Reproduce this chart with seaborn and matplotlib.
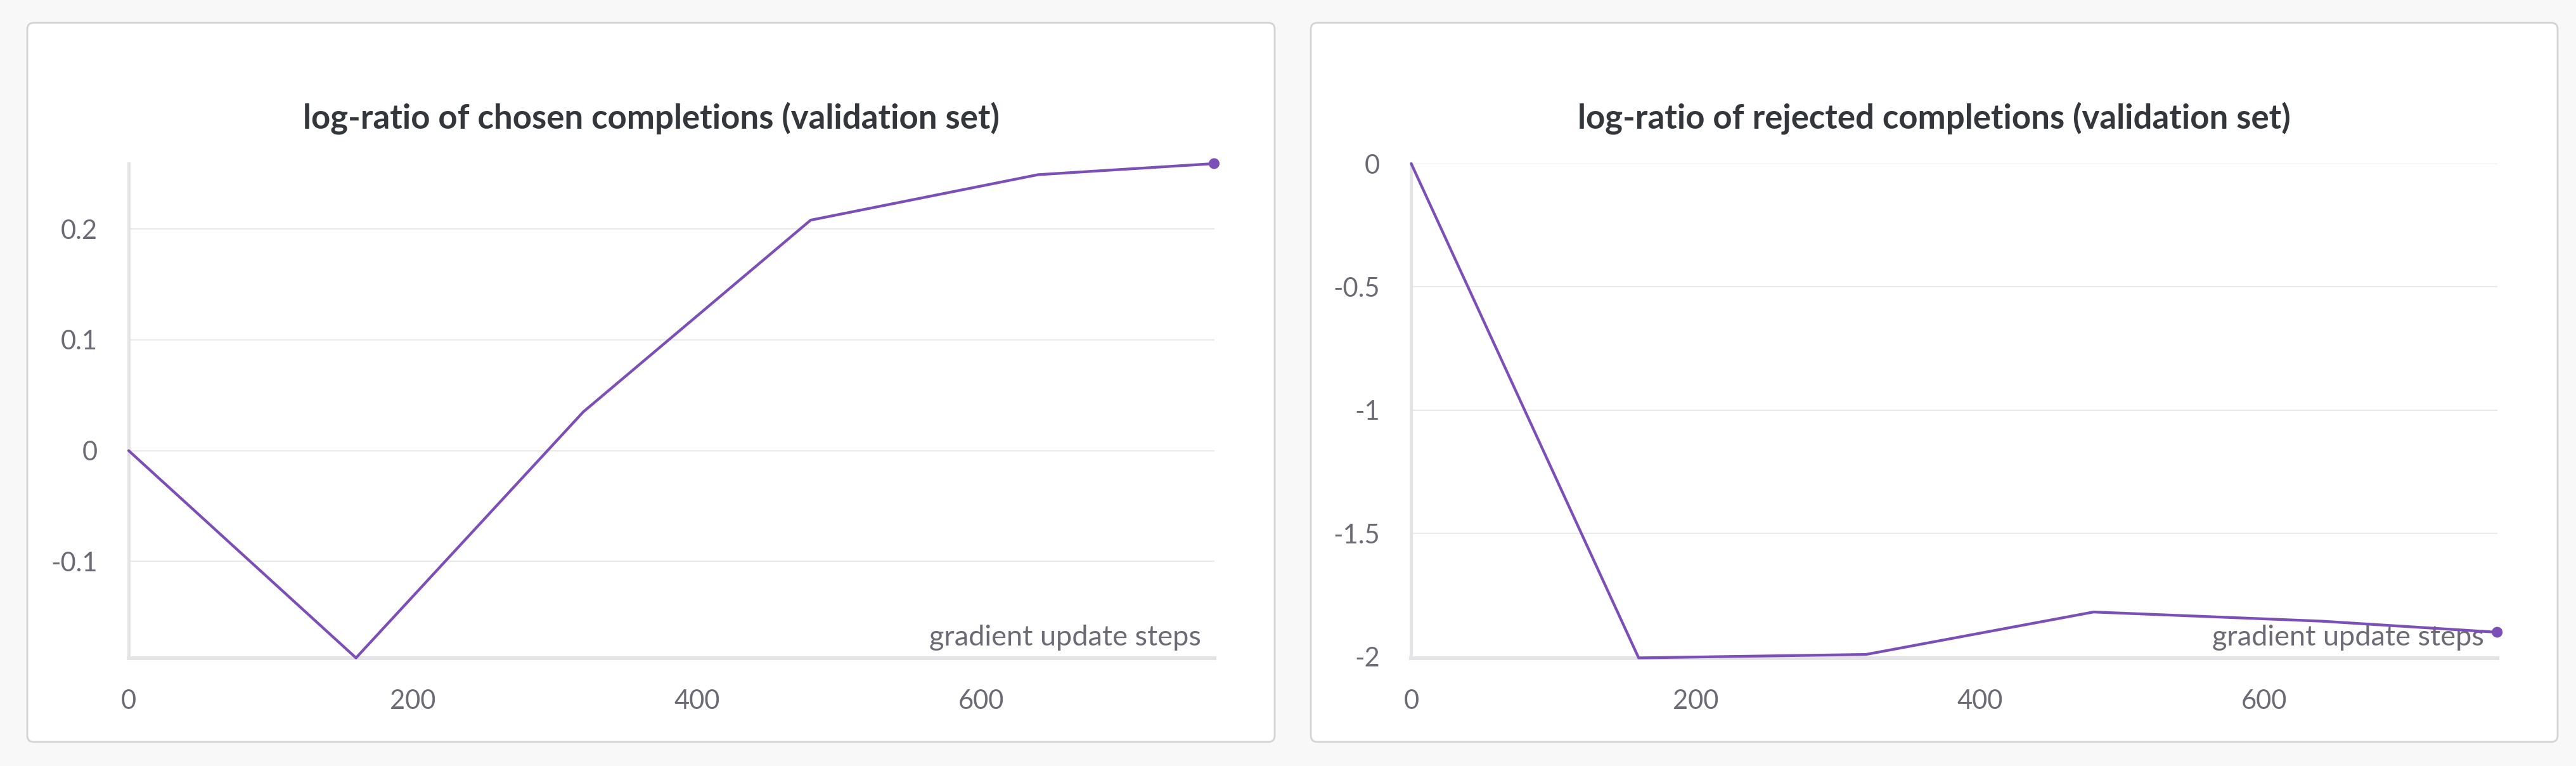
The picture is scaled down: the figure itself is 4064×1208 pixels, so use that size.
import matplotlib
matplotlib.use("Agg")
import matplotlib.pyplot as plt
import seaborn as sns
from matplotlib.patches import FancyBboxPatch

# ---- data ----
steps = [0, 160, 320, 480, 640, 764]
chosen_logratio = [0.0, -0.187, 0.035, 0.208, 0.249, 0.259]
rejected_logratio = [0.0, -2.004, -1.990, -1.818, -1.855, -1.900]
titles = ["log-ratio of chosen completions (validation set)",
          "log-ratio of rejected completions (validation set)"]
x_label = "gradient update steps"
x_ticks = [0, 200, 400, 600]
x_ticklabels = ["0", "200", "400", "600"]
chosen_yticks = [-0.1, 0, 0.1, 0.2]
chosen_yticklabels = ["-0.1", "0", "0.1", "0.2"]
rejected_yticks = [-2, -1.5, -1, -0.5, 0]
rejected_yticklabels = ["-2", "-1.5", "-1", "-0.5", "0"]

W, H, DPI = 4064, 1208, 100
LINE = "#7c4fb8"
AXC = "#e4e4e7"
GRID = "#e9e9e9"
TICKC = "#6b6b76"
TITLEC = "#33363b"

sns.set_theme(style="white")
plt.rcParams['font.family'] = ['Lato', 'DejaVu Sans']

fig = plt.figure(figsize=(W / DPI, H / DPI), dpi=DPI, facecolor="#f8f8f8")

cards = [(43, 2011), (2068, 4035)]
card_top, card_bot = 36, 1170
for (cx0, cx1) in cards:
    p = FancyBboxPatch((cx0, H - card_bot), cx1 - cx0, card_bot - card_top,
                       boxstyle="round,pad=0,rounding_size=10",
                       facecolor="white", edgecolor="#d3d3d3", linewidth=2.0,
                       transform=None, zorder=0)
    fig.add_artist(p)

ax_top, ax_bot = 258, 1037.5
axes_px = [(203, 1915.5), (2226.4, 3939.7)]
series = [(chosen_logratio, chosen_yticks, chosen_yticklabels),
          (rejected_logratio, rejected_yticks, rejected_yticklabels)]

for i, ((x0, x1), (vals, yt, ytl)) in enumerate(zip(axes_px, series)):
    ax = fig.add_axes([x0 / W, 1 - ax_bot / H, (x1 - x0) / W, (ax_bot - ax_top) / H])
    ax.set_zorder(1)
    ax.set_facecolor("none")
    sns.lineplot(x=steps, y=vals, ax=ax, color=LINE, linewidth=3.1, clip_on=False, zorder=3)
    sns.scatterplot(x=steps[-1:], y=vals[-1:], ax=ax, color=LINE, s=150,
                    edgecolor="none", clip_on=False, zorder=4)
    ax.set_xlim(steps[0], steps[-1])
    ax.set_ylim(min(vals), max(vals))
    ax.set_xticks(x_ticks)
    ax.set_xticklabels(x_ticklabels)
    ax.set_yticks(yt)
    ax.set_yticklabels(ytl)
    ax.tick_params(direction="inout", length=28.8, width=2.2, color=AXC, pad=21,
                   labelsize=30, labelcolor=TICKC)
    ax.yaxis.grid(True, color=GRID, linewidth=1.5)
    ax.xaxis.grid(False)
    for s in ("top", "right"):
        ax.spines[s].set_visible(False)
    ax.spines["left"].set_color(AXC)
    ax.spines["left"].set_linewidth(3.6)
    ax.spines["bottom"].set_color(AXC)
    ax.spines["bottom"].set_linewidth(4.3)
    ax.set_xlabel(x_label, ha="right", va="baseline", fontsize=32.5, color=TICKC)
    ax.xaxis.set_label_coords(1 - 21 / (x1 - x0), 19.5 / (ax_bot - ax_top))
    ax.set_ylabel("")
    cx = (cards[i][0] + cards[i][1]) / 2
    fig.text(cx / W, 1 - 202 / H, titles[i], ha="center", va="baseline",
             fontsize=38, fontweight="bold", color=TITLEC)

fig.savefig("out.png", dpi=DPI, facecolor=fig.get_facecolor())
